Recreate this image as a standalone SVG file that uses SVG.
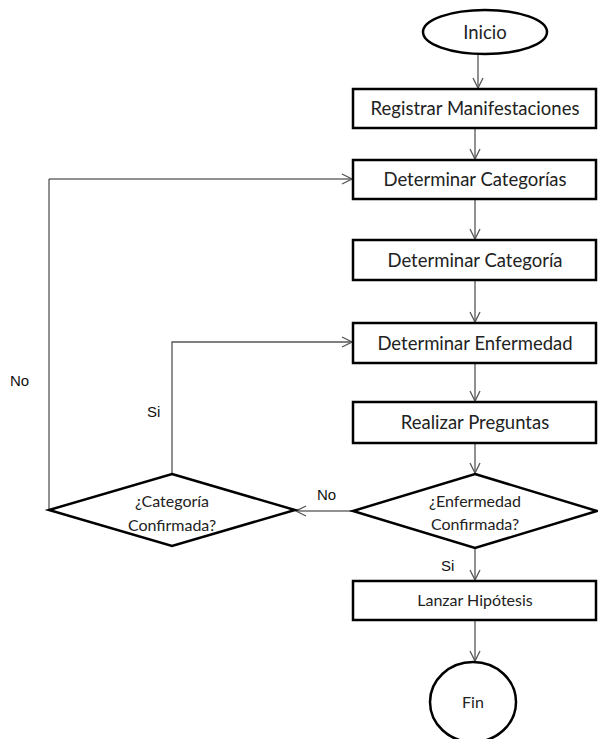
<svg xmlns="http://www.w3.org/2000/svg" width="598" height="739" viewBox="0 0 598 739">
<style>
.box{fill:#fff;stroke:#000;stroke-width:2.5}
.t{font-family:Lato,"Open Sans",sans-serif;font-size:18.5px;fill:#222;text-anchor:middle}
.ts{font-family:Lato,"Open Sans",sans-serif;font-size:16px;fill:#222;text-anchor:middle}
.lbl{font-family:"Liberation Sans",Arial,sans-serif;font-size:15px;fill:#111}
.c{fill:none;stroke:#555;stroke-width:1.3}
.c2{fill:none;stroke:#222;stroke-width:1}
</style>
<defs>
<marker id="a" markerUnits="userSpaceOnUse" markerWidth="14" markerHeight="14" refX="11" refY="6" orient="auto">
<path d="M1,1 L11,6 L1,11" fill="none" stroke="#555" stroke-width="1.3"/>
</marker>
</defs>
<rect width="598" height="739" fill="#fff"/>
<g id="connectors">
<line class="c" x1="478" y1="54" x2="478" y2="88" marker-end="url(#a)"/>
<line class="c" x1="475" y1="129" x2="475" y2="159" marker-end="url(#a)"/>
<line class="c" x1="475" y1="200" x2="475" y2="239" marker-end="url(#a)"/>
<line class="c" x1="475" y1="281" x2="475" y2="322" marker-end="url(#a)"/>
<line class="c" x1="475" y1="364" x2="475" y2="401" marker-end="url(#a)"/>
<line class="c" x1="475" y1="444" x2="475" y2="473" marker-end="url(#a)"/>
<line class="c" x1="475" y1="548" x2="475" y2="580" marker-end="url(#a)"/>
<line class="c" x1="475" y1="621" x2="475" y2="661" marker-end="url(#a)"/>
<line class="c2" x1="353" y1="511" x2="296" y2="511" marker-end="url(#a)"/>
<polyline class="c" points="172,474 172,342 352,342" marker-end="url(#a)"/>
<polyline class="c2" points="49,510 49,179 352,179" marker-end="url(#a)"/>
<text class="lbl" x="10" y="386">No</text>
<text class="lbl" x="147" y="417">Si</text>
<text class="lbl" x="317" y="500">No</text>
<text class="lbl" x="441" y="571">Si</text>
</g>
<g id="inicio">
<ellipse cx="485" cy="32" rx="62" ry="22" fill="#fff" stroke="#000" stroke-width="2.5"/>
<text class="t" x="485" y="39">Inicio</text>
</g>
<g id="registrar">
<rect class="box" x="353" y="89" width="243" height="39"/>
<text class="t" x="475" y="115">Registrar Manifestaciones</text>
</g>
<g id="categorias">
<rect class="box" x="353" y="160" width="243" height="39"/>
<text class="t" x="475" y="186">Determinar Categorías</text>
</g>
<g id="categoria">
<rect class="box" x="353" y="240" width="243" height="40"/>
<text class="t" x="475" y="267">Determinar Categoría</text>
</g>
<g id="enfermedad">
<rect class="box" x="353" y="323" width="243" height="40"/>
<text class="t" x="475" y="350">Determinar Enfermedad</text>
</g>
<g id="preguntas">
<rect class="box" x="353" y="402" width="243" height="41"/>
<text class="t" x="475" y="429">Realizar Preguntas</text>
</g>
<g id="enf-confirmada">
<polygon points="475,474 597,511 475,548 353,511" fill="#fff" stroke="#000" stroke-width="2.5"/>
<text class="ts" x="475" y="507">¿Enfermedad</text>
<text class="ts" x="475" y="530">Confirmada?</text>
</g>
<g id="cat-confirmada">
<polygon points="172,474 295,510 172,546 49,510" fill="#fff" stroke="#000" stroke-width="2.5"/>
<text class="ts" x="172" y="507">¿Categoría</text>
<text class="ts" x="172" y="531">Confirmada?</text>
</g>
<g id="hipotesis">
<rect class="box" x="353" y="581" width="243" height="39"/>
<text class="ts" x="475" y="606">Lanzar Hipótesis</text>
</g>
<g id="fin">
<ellipse cx="473" cy="702" rx="43" ry="40" fill="#fff" stroke="#000" stroke-width="2.5"/>
<text class="ts" x="473" y="708">Fin</text>
</g>
</svg>
